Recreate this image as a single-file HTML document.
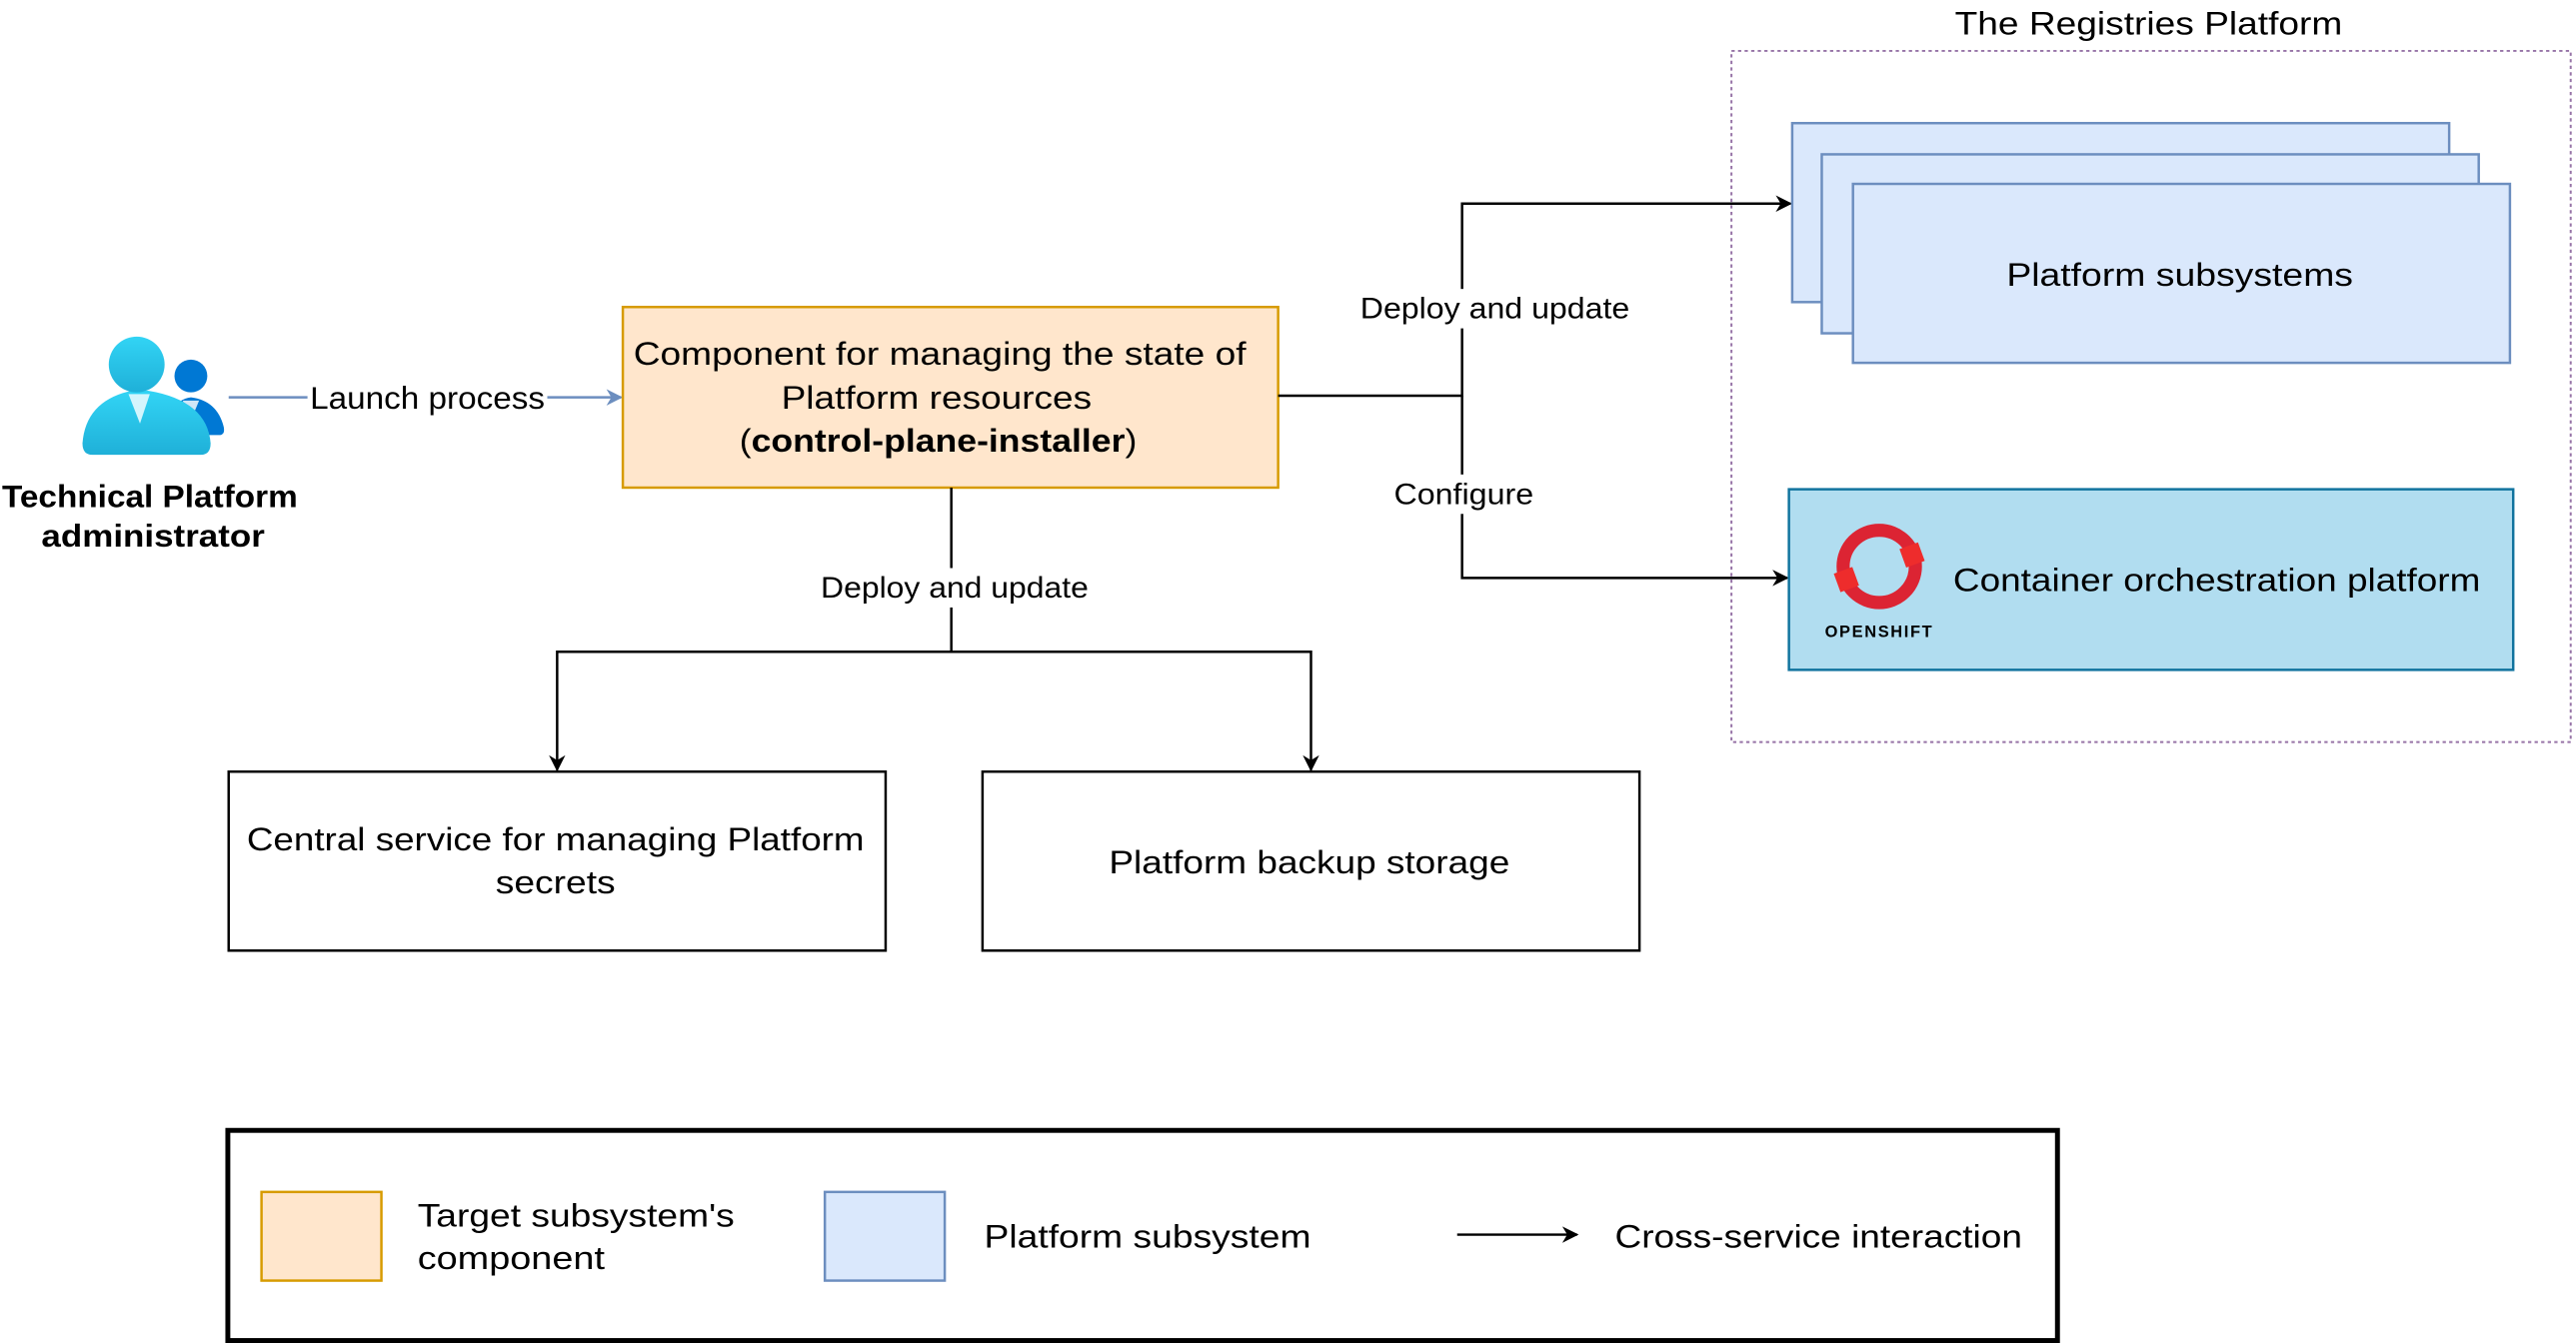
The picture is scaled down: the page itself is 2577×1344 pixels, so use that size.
<!DOCTYPE html>
<html><head><meta charset="utf-8"><style>html,body{margin:0;padding:0;background:#fff}svg{display:block}text{font-family:"Liberation Sans",Arial,sans-serif;fill:#000}</style></head>
<body>
<svg width="2577" height="1344" viewBox="0 0 1568 818" xmlns="http://www.w3.org/2000/svg">
<defs>
<marker id="ab" markerWidth="10" markerHeight="10" refX="9" refY="5" orient="auto" markerUnits="userSpaceOnUse"><path d="M0,0 L10,5 L0,10 L3,5 Z" fill="#000"/></marker>
<marker id="abl" markerWidth="10" markerHeight="10" refX="9" refY="5" orient="auto" markerUnits="userSpaceOnUse"><path d="M0,0 L10,5 L0,10 L3,5 Z" fill="#6c8ebf"/></marker>
<linearGradient id="g1" x1="0" y1="0" x2="0" y2="1"><stop offset="0" stop-color="#32d4f5"/><stop offset="1" stop-color="#1fb0d8"/></linearGradient>
</defs>
<!-- person icon -->
<path d="M100,265 Q102,244 116,242 Q132,244 136,260 Q137,265 133,265 Z" fill="#0078d4"/>
<circle cx="116" cy="229" r="10" fill="#0078d4"/>
<path d="M111,244 L121,244 L116,256 Z" fill="#cfe6f7"/>
<path d="M50,270 Q52,244 80,238 L90,238 Q126,244 128,270 Q128,277 122,277 L56,277 Q50,277 50,270 Z" fill="url(#g1)"/>
<circle cx="83" cy="222" r="17" fill="url(#g1)"/>
<path d="M78,240 L91,240 L85,258 Z" fill="#d4f5fd"/>
<text x="91" y="309" font-size="19" font-weight="bold" text-anchor="middle" textLength="180" lengthAdjust="spacingAndGlyphs">Technical Platform</text>
<text x="93" y="333" font-size="19" font-weight="bold" text-anchor="middle" textLength="136" lengthAdjust="spacingAndGlyphs">administrator</text>
<!-- launch arrow -->
<line x1="139" y1="242" x2="378" y2="242" stroke="#6c8ebf" stroke-width="1.5" marker-end="url(#abl)"/>
<rect x="187" y="230" width="146" height="24" fill="#fff"/>
<text x="260" y="249" font-size="19" text-anchor="middle" textLength="143" lengthAdjust="spacingAndGlyphs">Launch process</text>
<!-- orange box -->
<rect x="379" y="187" width="399" height="110" fill="#ffe6cc" stroke="#d79b00" stroke-width="1.5"/>
<text x="572" y="222" font-size="20" text-anchor="middle" textLength="373" lengthAdjust="spacingAndGlyphs">Component for managing the state of</text>
<text x="570" y="249" font-size="20" text-anchor="middle" textLength="189" lengthAdjust="spacingAndGlyphs">Platform resources</text>
<text x="571" y="275" font-size="20" text-anchor="middle" textLength="242" lengthAdjust="spacingAndGlyphs">(<tspan font-weight="bold">control-plane-installer</tspan>)</text>
<!-- right connectors -->
<polyline points="778,241 890,241 890,124 1090,124" fill="none" stroke="#000" stroke-width="1.5" marker-end="url(#ab)"/>
<polyline points="890,241 890,352 1088,352" fill="none" stroke="#000" stroke-width="1.5" marker-end="url(#ab)"/>
<rect x="826" y="176" width="168" height="24" fill="#fff"/>
<text x="910" y="194" font-size="18" text-anchor="middle" textLength="164" lengthAdjust="spacingAndGlyphs">Deploy and update</text>
<rect x="847" y="289" width="89" height="24" fill="#fff"/>
<text x="891" y="307" font-size="18" text-anchor="middle" textLength="85" lengthAdjust="spacingAndGlyphs">Configure</text>
<!-- down connectors -->
<polyline points="579,297 579,397 339,397 339,469" fill="none" stroke="#000" stroke-width="1.5" marker-end="url(#ab)"/>
<polyline points="579,397 798,397 798,469" fill="none" stroke="#000" stroke-width="1.5" marker-end="url(#ab)"/>
<rect x="498" y="346" width="167" height="24" fill="#fff"/>
<text x="581" y="364" font-size="18" text-anchor="middle" textLength="163" lengthAdjust="spacingAndGlyphs">Deploy and update</text>
<rect x="139" y="470" width="400" height="109" fill="#fff" stroke="#000" stroke-width="1.5"/>
<text x="338" y="518" font-size="20" text-anchor="middle" textLength="376" lengthAdjust="spacingAndGlyphs">Central service for managing Platform</text>
<text x="338" y="544" font-size="20" text-anchor="middle" textLength="73" lengthAdjust="spacingAndGlyphs">secrets</text>
<rect x="598" y="470" width="400" height="109" fill="#fff" stroke="#000" stroke-width="1.5"/>
<text x="797" y="532" font-size="20" text-anchor="middle" textLength="244" lengthAdjust="spacingAndGlyphs">Platform backup storage</text>
<!-- registries platform -->
<text x="1308" y="21" font-size="20" text-anchor="middle" textLength="236" lengthAdjust="spacingAndGlyphs">The Registries Platform</text>
<rect x="1054" y="31" width="511" height="421" fill="none" stroke="#9673a6" stroke-width="1.2" stroke-dasharray="2,2"/>
<rect x="1091" y="75" width="400" height="109" fill="#dae8fc" stroke="#6c8ebf" stroke-width="1.5"/>
<rect x="1109" y="94" width="400" height="109" fill="#dae8fc" stroke="#6c8ebf" stroke-width="1.5"/>
<rect x="1128" y="112" width="400" height="109" fill="#dae8fc" stroke="#6c8ebf" stroke-width="1.5"/>
<text x="1327" y="174" font-size="20" text-anchor="middle" textLength="211" lengthAdjust="spacingAndGlyphs">Platform subsystems</text>
<rect x="1089" y="298" width="441" height="110" fill="#b1ddf0" stroke="#10739e" stroke-width="1.5"/>
<circle cx="1144" cy="345" r="22" fill="none" stroke="#dc2433" stroke-width="8"/>
<rect x="1158" y="332" width="12" height="12" fill="#ee2c2c" transform="rotate(-20 1164 338)"/>
<rect x="1118" y="347" width="12" height="12" fill="#ee2c2c" transform="rotate(-20 1124 353)"/>
<text x="1144" y="388" font-size="10" font-weight="bold" text-anchor="middle" letter-spacing="1" fill="#222">OPENSHIFT</text>
<text x="1189" y="360" font-size="20" textLength="321" lengthAdjust="spacingAndGlyphs">Container orchestration platform</text>
<!-- legend -->
<rect x="138.5" y="688.5" width="1114" height="128" fill="#fff" stroke="#000" stroke-width="3"/>
<rect x="159" y="726" width="73" height="54" fill="#ffe6cc" stroke="#d79b00" stroke-width="1.5"/>
<text x="254" y="747" font-size="20" textLength="193" lengthAdjust="spacingAndGlyphs">Target subsystem's</text>
<text x="254" y="773" font-size="20" textLength="114" lengthAdjust="spacingAndGlyphs">component</text>
<rect x="502" y="726" width="73" height="54" fill="#dae8fc" stroke="#6c8ebf" stroke-width="1.5"/>
<text x="599" y="760" font-size="20" textLength="199" lengthAdjust="spacingAndGlyphs">Platform subsystem</text>
<line x1="887" y1="752" x2="960" y2="752" stroke="#000" stroke-width="1.5" marker-end="url(#ab)"/>
<text x="983" y="760" font-size="20" textLength="248" lengthAdjust="spacingAndGlyphs">Cross-service interaction</text>
</svg>
</body></html>
